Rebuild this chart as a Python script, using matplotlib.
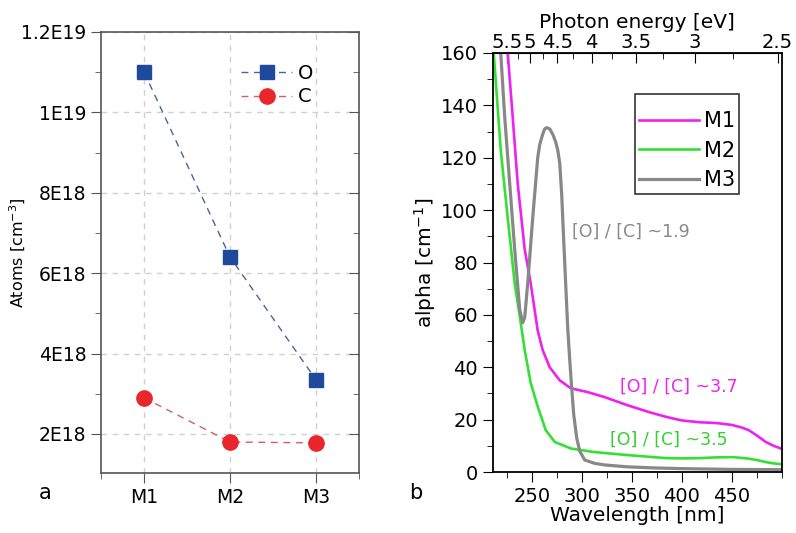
import numpy as np
import matplotlib
matplotlib.use('Agg')
import matplotlib.pyplot as plt
from matplotlib.ticker import FixedLocator, MultipleLocator

# ---- panel a: SIMS concentrations ----
samples = ['M1', 'M2', 'M3']
oxygen = [1.10e19, 6.4e18, 3.35e18]
carbon = [2.9e18, 1.8e18, 1.78e18]

# ---- panel b: absorption spectra ----
wl_m1 = [226, 231, 236, 243, 249, 256, 261, 268, 278, 289, 306, 323, 345, 368,
         385, 400, 418, 435, 450, 460, 467, 475, 484, 492, 499]
alpha_m1 = [160, 135.5, 110, 85, 72, 54, 46.5, 40, 35, 32, 30.5, 28.6, 25.6, 22.8,
            21, 19.7, 19, 18.7, 18, 17, 16, 14, 11.5, 10, 9]
wl_m2 = [212, 219, 226, 233, 239, 243, 249, 256, 264, 273, 289, 313, 345, 368,
         385, 400, 418, 435, 451, 465, 475, 484, 492, 499]
alpha_m2 = [160, 123, 97, 72, 57, 46.5, 34, 25, 16, 11.5, 9, 7.6, 6.5, 5.8,
            5.3, 5.2, 5.3, 5.6, 5.7, 5.2, 4.6, 3.8, 3.3, 3]
wl_m3 = [219, 223, 228, 233, 238, 241, 243, 246, 251, 256, 258, 261, 263, 265,
         268, 271, 274, 276, 278, 280, 281, 283, 286, 288, 290, 292, 295, 298,
         303, 313, 323, 345, 370, 400, 450, 499]
alpha_m3 = [160, 135.5, 110, 85, 62, 57, 59, 72, 97, 120, 125, 129, 131, 131.5,
            131, 129, 126, 123, 118, 106, 97, 80, 55, 43, 32, 22, 13, 8,
            4.6, 3.3, 2.7, 2, 1.6, 1.3, 1.0, 0.9]
energy_ticks = [5.5, 5, 4.5, 4, 3.5, 3, 2.5]
energy_minor = [5.25, 4.75, 4.25, 3.75, 3.25, 2.75]

fig = plt.figure(figsize=(7.96, 5.33), dpi=100)

# ------------- left panel ----------------
ax1 = fig.add_axes([0.127, 0.1126, 0.324, 0.8274])
x = np.arange(1, len(samples) + 1)
ax1.plot(x, oxygen, ls='--', color='#4a6595', lw=1, marker='s', ms=10,
         mfc='#1f4a9c', mec='#1f4a9c', label='O', dashes=(5, 4))
ax1.plot(x, carbon, ls='--', color='#d0606a', lw=1, marker='o', ms=11,
         mfc='#e8262b', mec='#e8262b', label='C', dashes=(5, 4))
ax1.set_xlim(0.5, 3.5)
ax1.set_ylim(1.03e18, 1.2e19)
ax1.set_xticks(x)
ax1.set_xticklabels(samples)
ax1.xaxis.set_minor_locator(FixedLocator([0.5, 3.5]))
ax1.set_yticks([2e18, 4e18, 6e18, 8e18, 1e19, 1.2e19])
ax1.set_yticklabels(['2E18', '4E18', '6E18', '8E18', '1E19', '1.2E19'])
ax1.yaxis.set_minor_locator(MultipleLocator(1e18))
ax1.grid(True, ls='--', color='#d0d0d0', lw=1, dashes=(4, 4))
ax1.tick_params(axis='both', which='major', labelsize=13.5, length=7, color='#555555')
ax1.tick_params(axis='both', which='minor', length=4, color='#555555')
ax1.tick_params(axis='y', which='both', right=True, direction='out')
ax1.tick_params(axis='x', which='both', top=False, direction='out')
for t in ax1.yaxis.get_majorticklines()[1::2] + ax1.yaxis.get_minorticklines()[1::2]:
    t.set_marker(matplotlib.lines.TICKLEFT)
for s in ax1.spines.values():
    s.set_color('#555555')
    s.set_linewidth(1.2)
ax1.set_ylabel('Atoms [cm$^{-3}$]', fontsize=11.5)
ax1.yaxis.set_label_coords(-0.285, 0.5)
ax1.legend(loc='upper right', bbox_to_anchor=(0.89, 0.968), frameon=False,
           fontsize=14, handlelength=2.6, handletextpad=0.3, labelspacing=0.25)
fig.text(0.057, 0.075, 'a', fontsize=15, ha='center', va='center')

# ------------- right panel ----------------
ax2 = fig.add_axes([0.619, 0.1144, 0.363, 0.7862])
ax2.plot(wl_m1, alpha_m1, color='#ee22ee', lw=1.9, label='M1')
ax2.plot(wl_m2, alpha_m2, color='#33e033', lw=1.9, label='M2')
ax2.plot(wl_m3, alpha_m3, color='#888888', lw=2.3, label='M3')
ax2.set_xlim(211, 500)
ax2.set_ylim(0, 160)
ax2.set_xticks([250, 300, 350, 400, 450])
ax2.xaxis.set_minor_locator(MultipleLocator(25))
ax2.yaxis.set_major_locator(MultipleLocator(20))
ax2.yaxis.set_minor_locator(MultipleLocator(10))
ax2.tick_params(axis='both', which='major', labelsize=14, length=7, direction='out')
ax2.tick_params(axis='both', which='minor', length=4, direction='out')
ax2.tick_params(axis='x', which='both', top=False)
ax2.set_xlabel('Wavelength [nm]', fontsize=14.5, labelpad=0)
ax2.set_ylabel('alpha [cm$^{-1}$]', fontsize=14.5, labelpad=2)
for s in ax2.spines.values():
    s.set_linewidth(1.3)


def nm_to_ev(v):
    v = np.asarray(v, dtype=float)
    with np.errstate(divide='ignore'):
        return 1240.0 / np.where(v == 0, 1e-9, v)


top = ax2.secondary_xaxis('top', functions=(nm_to_ev, nm_to_ev))
top.set_xticks(energy_ticks)
top.set_xticklabels(['5.5', '5', '4.5', '4', '3.5', '3', '2.5'])
top.xaxis.set_minor_locator(FixedLocator(energy_minor))
top.tick_params(which='major', direction='in', length=7, labelsize=14, pad=1)
top.tick_params(which='minor', direction='in', length=4)
top.set_xlabel('Photon energy [eV]', fontsize=14.5, labelpad=3)

# blank title gives the extra room above M1 seen in the original box
leg = ax2.legend(loc='upper right', bbox_to_anchor=(0.852, 0.903), fontsize=15,
                 fancybox=False, edgecolor='black', handlelength=2.9,
                 handletextpad=0.2, labelspacing=0.45, borderpad=0.2,
                 borderaxespad=0, title=' ', title_fontsize=3)
leg.get_frame().set_linewidth(1.2)

ax2.text(290, 91.6, '[O] / [C] ~1.9', color='#888888', fontsize=12.5, va='center')
ax2.text(338, 32.4, '[O] / [C] ~3.7', color='#ee22ee', fontsize=12.5, va='center')
ax2.text(328, 12.2, '[O] / [C] ~3.5', color='#33d033', fontsize=12.5, va='center')
fig.text(0.522, 0.075, 'b', fontsize=15, ha='center', va='center')

fig.savefig('out.png', dpi=100)
